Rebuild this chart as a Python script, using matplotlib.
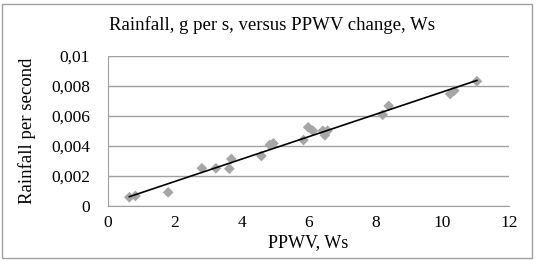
import numpy as np
import matplotlib.pyplot as plt
from matplotlib.ticker import FuncFormatter
from matplotlib.patches import Rectangle

# PPWV change (Ws) and rainfall per second (g/s)
ppwv = [0.64, 0.82, 1.80, 2.81, 3.23, 3.63, 3.69, 4.59, 4.84, 4.95, 5.85,
        5.99, 6.13, 6.43, 6.49, 6.57, 8.22, 8.40, 10.24, 10.36, 11.04]
rain = [0.00055, 0.00064, 0.00088, 0.00249, 0.00249, 0.00246, 0.00311,
        0.00331, 0.00405, 0.00416, 0.00438, 0.00523, 0.00500, 0.00500,
        0.00470, 0.00500, 0.00607, 0.00666, 0.00746, 0.00768, 0.00831]

plt.rcParams['font.family'] = ['Liberation Serif', 'DejaVu Serif']

fig = plt.figure(figsize=(5.36, 2.61), dpi=100)
ax = fig.add_axes([108/536, 1 - 205.5/261, (509 - 108)/536, (205.5 - 56)/261])

ax.scatter(ppwv, rain, marker='D', s=30, color='#a6a6a6', edgecolors='none', zorder=3)

# linear trendline
k, b = np.polyfit(ppwv, rain, 1)
xs = np.array([min(ppwv), max(ppwv)])
ax.plot(xs, k * xs + b, color='black', linewidth=1.2, zorder=4)

ax.set_xlim(0, 12)
ax.set_ylim(0, 0.01)
ax.set_xticks(np.arange(0, 13, 2))
ax.set_yticks(np.arange(0, 0.0101, 0.002))
ax.yaxis.set_major_formatter(FuncFormatter(lambda v, p: ('%g' % round(v, 4)).replace('.', ',')))

ax.grid(axis='y', color='#a0a0a0', linewidth=1)
ax.set_axisbelow(True)
for s in ['top', 'right']:
    ax.spines[s].set_visible(False)
for s in ['left', 'bottom']:
    ax.spines[s].set_color('#a0a0a0')
ax.tick_params(length=0, labelsize=12.5, pad=13)
ax.tick_params(axis='x', pad=7)

fig.text(272/536, 1 - 25/261, 'Rainfall, g per s, versus PPWV change, Ws',
         fontsize=13.5, ha='center', va='center')
ax.set_xlabel('PPWV, Ws', fontsize=13, labelpad=2)
ax.set_ylabel('Rainfall per second', fontsize=13.5, labelpad=11)

# chart border
fig.patches.append(Rectangle((2/536, 3/261), 530/536, 254/261, transform=fig.transFigure,
                             fill=False, edgecolor='#a0a0a0', linewidth=1))

fig.savefig('out.png', dpi=100)
